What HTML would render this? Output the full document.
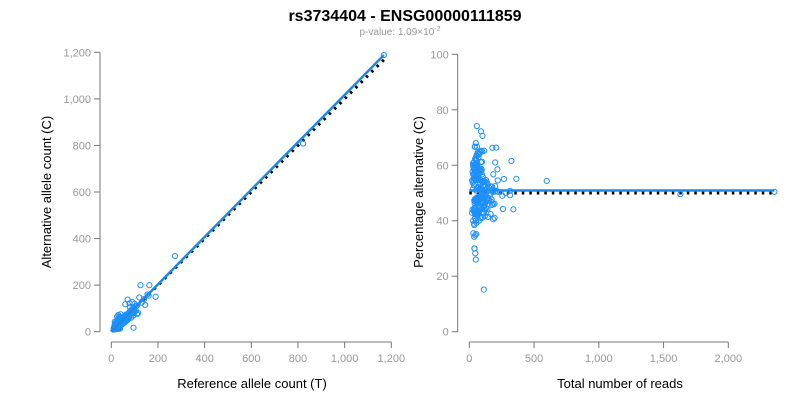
<!DOCTYPE html>
<html><head><meta charset="utf-8"><style>
body{margin:0;background:#fff;font-family:"Liberation Sans",Arial,sans-serif}
svg text{font-family:"Liberation Sans",Arial,sans-serif}
</style></head><body>
<svg id="chart" width="800" height="400" xmlns="http://www.w3.org/2000/svg">
<text x="405" y="21" text-anchor="middle" font-size="16" font-weight="bold" fill="#000">rs3734404 - ENSG00000111859</text>
<text x="400" y="35" text-anchor="middle" font-size="10" fill="#999">p-value: 1.09×10<tspan dy="-4" font-size="7">-2</tspan></text>
<g id="left"></g>
<g id="right"></g>
</svg>
<script>
const refCounts=[15,18,20,22,25,12,14,17,19,21,23,26,28,30,24,27,29,31,33,35,16,13,20,22,25,30,32,34,36,38,40,42,18,20,22,24,26,30,34,36,40,44,45,48,50,52,55,58,60,62,65,68,70,72,75,78,80,85,88,90,95,100,15,16,14,25,28,20,23,32,40,35,30,45,50,55,60,18,20,25,30,28,35,12,10,11,14,17,19,21,46,52,58,64,42,38,55,62,66,74,80,84,50,44,56,48,26,27,29,37,39,41,43,57,63,67,71,76,82,86,92,98,105,110,70,125,163,190,120,145,155,160,130,140,60,78,90,95,110,100,80,95,105,115,70,30,28,33,37,95,15,25,30,822,273,1168,
20,22,24,19,17,26,28,30,18,21,34,36,38,40,25,27,29,31,33,35,37,39,41,47,49,51,53,15,16,17,13,12,11,22,24,23,26,28,30,32,24,26,28,30,32,34,36,38,20,22,44,46,48,54,56,60,20,23,25,27,29,31,14,16,18,43,47,53,57,61,65,69,72,76,60,64,35,38,26,22];
const altCounts=[16,22,18,25,20,14,11,19,24,16,28,24,30,26,33,22,35,29,38,30,20,17,27,19,31,40,35,28,44,33,46,38,30,35,14,15,18,20,22,26,30,34,48,42,55,45,60,50,66,52,56,60,65,58,70,62,72,60,78,82,70,85,30,34,28,45,50,40,42,60,75,65,55,30,35,38,42,12,11,13,16,12,19,9,12,15,22,26,31,34,58,62,70,74,55,52,48,58,70,80,88,92,52,46,54,50,27,28,31,39,37,43,41,60,61,64,73,74,80,90,96,100,108,112,138,200,200,150,147,115,160,155,125,140,118,122,127,105,75,120,105,80,90,80,50,37,12,13,13,17,43,65,72,808,325,1188,
30,33,36,29,28,38,40,42,26,31,48,50,54,56,22,24,27,29,31,33,35,36,38,44,47,49,50,18,21,23,19,18,17,20,22,21,23,25,27,28,18,19,21,22,24,25,27,28,16,17,52,54,57,64,66,70,25,29,32,35,38,40,20,23,25,35,38,42,45,50,52,54,66,68,45,48,55,60,44,38];
const leftXTicks=[0,200,400,600,800,1000,1200];
const leftYTicks=[0,200,400,600,800,1000,1200];
const rightXTicks=[0,500,1000,1500,2000];
const rightYTicks=[0,20,40,60,80,100];
const fitSlope=[1.017];
const meanPct=[50.9];
const NS="http://www.w3.org/2000/svg";
function mk(p,tag,at,txt){const e=document.createElementNS(NS,tag);for(const k in at)e.setAttribute(k,at[k]);if(txt!=null)e.textContent=txt;p.appendChild(e);return e;}
const fmt=v=>v.toLocaleString('en-US');
function axes(g,sx,sy,xt,yt,ax,ay,x0,x1,y0,y1,xl,yl,ylx,xlc){
  let a=mk(g,'line',{x1:ax,y1:sy(y0),x2:ax,y2:sy(y1),stroke:'#777','stroke-width':1});
  
  yt.forEach(v=>{let t=mk(g,'line',{x1:ax-6,x2:ax,y1:sy(v),y2:sy(v),stroke:'#777'});
    
    let l=mk(g,'text',{x:ax-9,y:sy(v)+4,'text-anchor':'end','font-size':11,fill:'#999'},fmt(v));
    });
  let b=mk(g,'line',{x1:sx(x0),y1:ay,x2:sx(x1),y2:ay,stroke:'#777'});
  
  xt.forEach(v=>{let t=mk(g,'line',{x1:sx(v),x2:sx(v),y1:ay,y2:ay+6,stroke:'#777'});
    
    let l=mk(g,'text',{x:sx(v),y:ay+20,'text-anchor':'middle','font-size':11,fill:'#999'},fmt(v));
    });
  let xt2=mk(g,'text',{x:xlc,y:388,'text-anchor':'middle','font-size':13,fill:'#000'},xl);
  
  let yt2=mk(g,'text',{x:0,y:0,'text-anchor':'middle','font-size':13,fill:'#000',transform:`translate(${ylx},192) rotate(-90)`},yl);
  
}
// Left
const L=document.getElementById('left');
const lsx=v=>111.3+v*280/1200, lsy=v=>331.7-v*279.4/1200;
axes(L,lsx,lsy,leftXTicks,leftYTicks,100,342,0,1200,0,1200,'Reference allele count (T)','Alternative allele count (C)',51,252);
const maxRef=Math.max(...refCounts);
let d1=mk(L,'line',{x1:lsx(0),y1:lsy(0),x2:lsx(maxRef+12),y2:lsy(maxRef+12),stroke:'#000','stroke-width':3,'stroke-dasharray':'2.5,5'});

refCounts.forEach((r,i)=>{let c=mk(L,'circle',{cx:lsx(r),cy:lsy(altCounts[i]),r:2.6,fill:'none',stroke:'#1E90FF','stroke-width':1});
  });
let f1=mk(L,'line',{x1:lsx(0),y1:lsy(0),x2:lsx(maxRef),y2:lsy(maxRef*fitSlope[0]),stroke:'#1E88E5','stroke-width':2.5});

// Right
const R=document.getElementById('right');
const rsx=v=>469.3+v*259/2000, rsy=v=>331.7-v*277.4/100;
axes(R,rsx,rsy,rightXTicks,rightYTicks,457.7,342,0,2000,0,100,'Total number of reads','Percentage alternative (C)',423,620);
const totals=refCounts.map((r,i)=>r+altCounts[i]);
const maxT=Math.max(...totals);
let d2=mk(R,'line',{x1:rsx(0),y1:rsy(50),x2:rsx(maxT),y2:rsy(50),stroke:'#000','stroke-width':3,'stroke-dasharray':'2.5,5'});

let f2=mk(R,'line',{x1:rsx(0),y1:rsy(meanPct[0]),x2:rsx(maxT),y2:rsy(meanPct[0]),stroke:'#1E88E5','stroke-width':2.5});

totals.forEach((t,i)=>{let c=mk(R,'circle',{cx:rsx(t),cy:rsy(altCounts[i]/t*100),r:2.6,fill:'none',stroke:'#1E90FF','stroke-width':1});
  });
</script>
</body></html>
